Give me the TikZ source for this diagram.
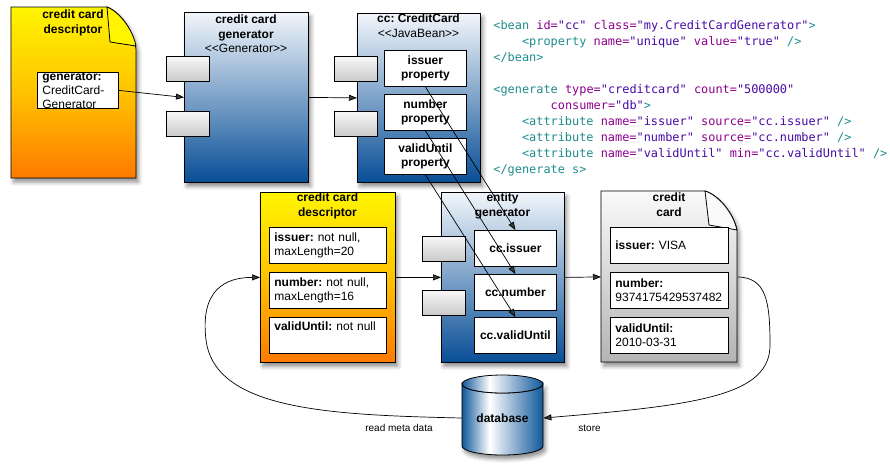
\documentclass[tikz,border=0pt]{standalone}
\usepackage{fontspec}
\setmainfont{Liberation Sans}
\newfontfamily\codefont{DejaVu Sans Mono}
\usetikzlibrary{arrows.meta,shadows.blur}

% palette
\definecolor{boxblueTop}{RGB}{242,246,251}
\definecolor{boxblueBot}{RGB}{8,78,150}
\definecolor{docyelTop}{RGB}{255,245,0}
\definecolor{docyelMid}{RGB}{255,195,0}
\definecolor{docyelBot}{RGB}{255,122,0}
\definecolor{cardTop}{RGB}{250,250,250}
\definecolor{cardBot}{RGB}{180,180,180}
\definecolor{dbblue}{RGB}{16,88,155}
\definecolor{xmltag}{RGB}{30,140,140}
\definecolor{xmlattr}{RGB}{140,0,140}
\definecolor{xmlval}{RGB}{70,10,165}

% cylinder body: dark edges, bright band left of centre
\pgfdeclarehorizontalshading{dbshade}{100bp}{color(0bp)=(dbblue); color(25bp)=(dbblue); color(42bp)=(white); color(75bp)=(dbblue); color(100bp)=(dbblue)}

% XML syntax colouring
\newcommand{\xmlT}[1]{\textcolor{xmltag}{#1}}
\newcommand{\xmlA}[1]{\textcolor{xmlattr}{#1}}
\newcommand{\xmlV}[1]{\textcolor{xmlval}{#1}}

\begin{document}
\frenchspacing
\begin{tikzpicture}[x=1pt,y=-1pt,
  font=\fontsize{12}{14}\selectfont,
  line width=0.8pt,
  shadowed/.style={blur shadow={shadow xshift=2.5pt, shadow yshift=-4pt, shadow blur radius=4pt, shadow opacity=45}},
  bluebox/.style={draw, shadowed, top color=boxblueTop, bottom color=boxblueBot, anchor=north west, inner sep=0},
  yelbox/.style={draw, shadowed, top color=docyelTop, bottom color=docyelBot, middle color=docyelMid, anchor=north west, inner sep=0},
  yeldoc/.style={draw, shadowed, top color=docyelTop, bottom color=docyelBot, middle color=docyelMid},
  carddoc/.style={draw, shadowed, top color=cardTop, bottom color=cardBot},
  port/.style={draw, top color=gray!6, bottom color=gray!42, anchor=north west, inner sep=0, minimum width=43, minimum height=25},
  whitebox/.style={draw, fill=white, anchor=north west, inner sep=0, minimum height=36},
  leftbox/.style={whitebox, align=left, inner xsep=5},
  centerbox/.style={whitebox, align=center, minimum width=82, font=\bfseries\fontsize{12}{14}\selectfont},
  titletext/.style={font=\bfseries\fontsize{12}{14.5}\selectfont, align=center, inner sep=0, anchor=north},
  codeline/.style={font=\codefont\fontsize{11.9}{16}\selectfont, inner sep=0, anchor=base west},
  smalllabel/.style={font=\fontsize{10}{12}\selectfont, inner sep=0},
  conn/.style={-{Triangle[length=8pt,width=6pt]}, line width=0.7pt}
]
\useasboundingbox (0,0) rectangle (890,471);

% ---------- top row ----------
% descriptor document with folded corner
\path[yeldoc] (11,7) -- (107,7) .. controls (120,12) and (133,30) .. (136,49) -- (136,178) -- (11,178) -- cycle;
\path[draw, fill=docyelTop] (107,7) -- (110,42) -- (136,46) .. controls (133,30) and (120,12) .. (107,7) -- cycle;
\node[titletext] (specT) at (73,9.5) {credit card\\descriptor};
\node[leftbox, text width=71] (gensrc) at (37,72) {\textbf{generator:}\\CreditCard-\\Generator};

% generator component
\node[bluebox, minimum width=124, minimum height=170] (gen) at (184,12) {};
\node[port] (genP1) at (166,56) {};
\node[port] (genP2) at (166,111) {};
\node[titletext] (genT) at (246,14.5) {credit card\\generator\\\mdseries<{}<Generator>{}>};

% JavaBean component
\node[bluebox, minimum width=123, minimum height=169] (cc) at (357,13) {};
\node[port] (ccP1) at (334,56) {};
\node[port] (ccP2) at (334,111) {};
\node[titletext] (ccT) at (418.5,13.5) {cc: CreditCard\\\mdseries<{}<JavaBean>{}>};
\node[centerbox] (pIss) at (384,50) {issuer\\property};
\node[centerbox] (pNum) at (384,94) {number\\property};
\node[centerbox] (pVal) at (384,138) {validUntil\\property};

% XML configuration
\node[codeline] (x0) at (493,29) {\xmlT{<bean} \xmlA{id=}\xmlV{"cc"} \xmlA{class=}\xmlV{"my.CreditCardGenerator"}\xmlT{>}};
\node[codeline] (x1) at (521.6,45) {\xmlT{<property} \xmlA{name=}\xmlV{"unique"} \xmlA{value=}\xmlV{"true"} \xmlT{/>}};
\node[codeline] (x2) at (493,61) {\xmlT{</bean>}};
\node[codeline] (x3) at (493,93) {\xmlT{<generate} \xmlA{type=}\xmlV{"creditcard"} \xmlA{count=}\xmlV{"500000"}};
\node[codeline] (x4) at (550.3,109) {\xmlA{consumer=}\xmlV{"db"}\xmlT{>}};
\node[codeline] (x5) at (521.6,125) {\xmlT{<attribute} \xmlA{name=}\xmlV{"issuer"} \xmlA{source=}\xmlV{"cc.issuer"} \xmlT{/>}};
\node[codeline] (x6) at (521.6,141) {\xmlT{<attribute} \xmlA{name=}\xmlV{"number"} \xmlA{source=}\xmlV{"cc.number"} \xmlT{/>}};
\node[codeline] (x7) at (521.6,157) {\xmlT{<attribute} \xmlA{name=}\xmlV{"validUntil"} \xmlA{min=}\xmlV{"cc.validUntil"} \xmlT{/>}};
\node[codeline] (x8) at (493,173) {\xmlT{</generate s>}};

% ---------- bottom row ----------
% constraint descriptor
\node[yelbox, minimum width=135, minimum height=170] (desc) at (260,192) {};
\node[titletext] (descT) at (327.5,192.5) {credit card\\descriptor};
\node[leftbox, text width=107] (dIss) at (269,227) {\textbf{issuer:} not null,\\maxLength=20};
\node[leftbox, text width=107] (dNum) at (269,272) {\textbf{number:} not null,\\maxLength=16};
\node[leftbox, text width=107] (dVal) at (269,317) {\textbf{validUntil:} not null\\\strut};

% entity generator component
\node[bluebox, minimum width=123, minimum height=170] (ent) at (441,192) {};
\node[port] (entP1) at (422,236) {};
\node[port] (entP2) at (422,290) {};
\node[titletext] (entT) at (502.5,192.5) {entity\\generator};
\node[centerbox] (eIss) at (474,230) {cc.issuer};
\node[centerbox] (eNum) at (474,274) {cc.number};
\node[centerbox] (eVal) at (474,317) {cc.validUntil};

% generated credit card document
\path[carddoc] (601,191) -- (705,191) .. controls (718,195) and (733,212) .. (737,230) -- (737,362) -- (601,362) -- cycle;
\path[draw, fill=cardTop] (705,191) -- (709,225) -- (737,230) .. controls (733,212) and (718,195) .. (705,191) -- cycle;
\node[anchor=north west, inner sep=0, minimum width=136, minimum height=171] (ccard) at (601,191) {};
\node[titletext] (cardT) at (669,192.5) {credit\\card};
\node[leftbox, text width=108] (cIss) at (610,227) {\textbf{issuer:} VISA};
\node[leftbox, text width=108] (cNum) at (610,272) {\textbf{number:}\\9374175429537482};
\node[leftbox, text width=108] (cVal) at (610,317) {\textbf{validUntil:}\\2010-03-31};

% database cylinder
\path[draw, shadowed, shading=dbshade] (462,384) -- (462,446) arc[start angle=180, end angle=360, x radius=40.5pt, y radius=9pt] -- (543,384) arc[start angle=0, end angle=-180, x radius=40.5pt, y radius=9pt] -- cycle;
\path[draw, shading=dbshade] (502.5,384) ellipse [x radius=40.5pt, y radius=9pt];
\node[minimum width=81, minimum height=20, inner sep=0, font=\bfseries\fontsize{12}{14}\selectfont] (db) at (502.5,418) {database};

\node[smalllabel, anchor=base east] (lblRead) at (433,431) {read meta data};
\node[smalllabel, anchor=base west] (lblStore) at (578,431) {store};

% ---------- connectors ----------
\coordinate (loopL) at (206,340);
\coordinate (loopR) at (770,345);

\draw[conn] (gensrc.east) -- (gen.west);
\draw[conn] (gen.east) -- (cc.west);
\draw[conn] (desc.east) -- (ent.west);
\draw[conn] (ent.east) -- (ccard.west);

\draw[conn] (db.west) .. controls +(-132,-3) and +(9,70) .. (loopL)
                      .. controls +(-6,-50) and +(-35,0) .. (desc.west);
\draw[conn] (ccard.east) .. controls +(28,1) and +(0,-45) .. (loopR)
                         .. controls +(0,50) and +(157,-13) .. (db.east);

\draw[conn] (pIss.south) -- (eIss.north);
\draw[conn] (pNum.south) -- (eNum.north);
\draw[conn] (pVal.south) -- (eVal.north);
\end{tikzpicture}
\end{document}
